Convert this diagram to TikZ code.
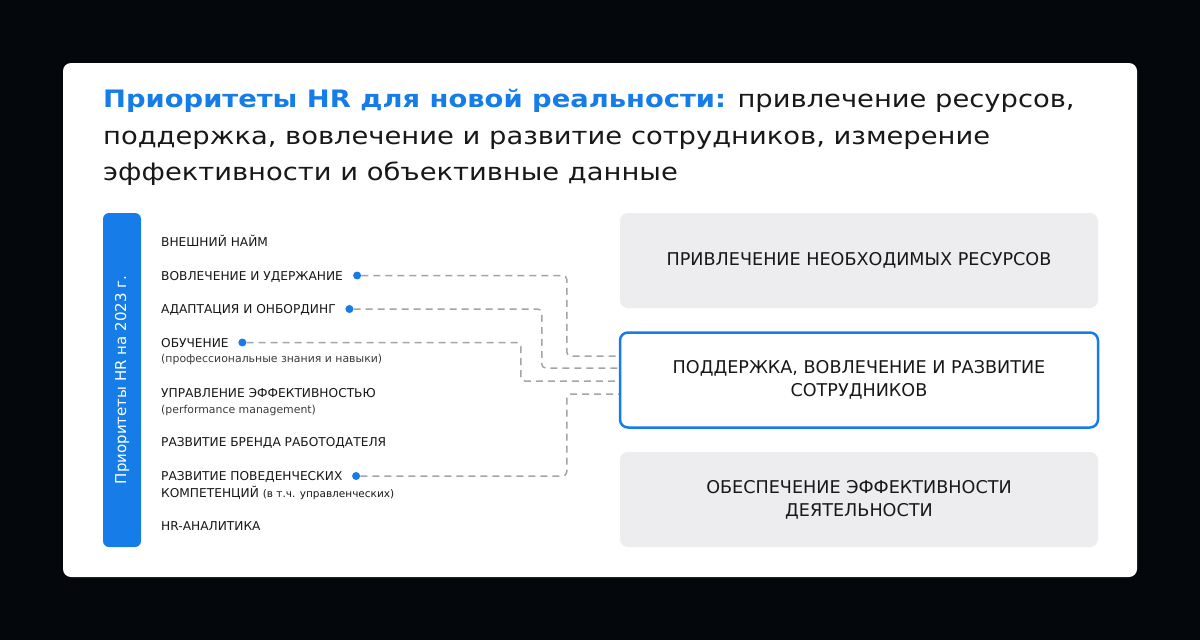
\documentclass[tikz,border=0pt]{standalone}
\usepackage{fontspec}
\setmainfont{DejaVu Sans}
\newfontfamily\titlefont{DejaVu Sans}[FakeStretch=1.14]
\usepackage{xcolor}
\usepackage{tikz}
\usetikzlibrary{
    positioning,
    calc
}
\definecolor{hrblue}{RGB}{22,124,232}
\definecolor{backdrop}{RGB}{4,7,11}
\definecolor{boxgray}{RGB}{237,237,239}
\definecolor{dashgray}{RGB}{165,165,165}
\definecolor{ink}{RGB}{24,24,24}
\tikzstyle{card} = [
    fill=white,
    rounded corners=8pt
]
\tikzstyle{goal} = [
    rectangle,
    rounded corners=8pt,
    fill=boxgray,
    minimum width=478pt,
    minimum height=95pt,
    align=center,
    text=ink,
    font=\fontsize{17.6}{23}\selectfont
]
\tikzstyle{focus} = [
    goal,
    fill=white,
    draw=hrblue,
    line width=2.5pt
]
\tikzstyle{yearbar} = [
    rectangle,
    rounded corners=6pt,
    fill=hrblue,
    minimum width=334pt,
    minimum height=38pt,
    text=white,
    font=\fontsize{15}{17}\selectfont
]
\tikzstyle{item} = [
    anchor=base west,
    inner sep=0pt,
    text=ink,
    font=\fontsize{12.2}{14}\selectfont
]
\tikzstyle{note} = [
    item,
    text=ink!85,
    font=\fontsize{10.9}{12}\selectfont
]
\tikzstyle{dot} = [
    circle,
    fill=hrblue,
    minimum size=8pt,
    inner sep=0pt
]
\tikzstyle{link} = [
    draw=dashgray,
    line width=1.5pt,
    dash pattern=on 7pt off 5pt,
    rounded corners=4pt
]
\newcommand{\notesize}{\fontsize{10.5}{12}\selectfont}

\begin{document}
\begin{tikzpicture}[x=1pt, y=-1pt]
        % Backdrop and card
        \fill[backdrop] (0,0) rectangle (1200,640);
        \fill[card] (63,63) rectangle (1137,577);

        % Title
        \node[anchor=north west, align=left, inner sep=0pt, text=ink,
              font=\titlefont\fontsize{24}{36.7}\selectfont] (title) at (103,89)
            {\textcolor{hrblue}{\bfseries Приоритеты HR для новой реальности:} привлечение ресурсов,\\
             поддержка, вовлечение и развитие сотрудников, измерение\\
             эффективности и объективные данные};

        % Year bar
        \node[yearbar, rotate=90] (year) at (122,380) {Приоритеты HR на 2023 г.};

        % Priority list
        \node[item] (hire) at (161,246) {ВНЕШНИЙ НАЙМ};
        \node[item] (engage) at (161,280) {ВОВЛЕЧЕНИЕ И УДЕРЖАНИЕ};
        \node[item] (onboard) at (161,313.5) {АДАПТАЦИЯ И ОНБОРДИНГ};
        \node[item] (train) at (161,347) {ОБУЧЕНИЕ};
        \node[note] (trainnote) at (161,362) {(профессиональные знания и навыки)};
        \node[item] (perf) at (161,397) {УПРАВЛЕНИЕ ЭФФЕКТИВНОСТЬЮ};
        \node[note] (perfnote) at (161,413) {(performance management)};
        \node[item] (brand) at (161,446) {РАЗВИТИЕ БРЕНДА РАБОТОДАТЕЛЯ};
        \node[item] (skills) at (161,480.5) {РАЗВИТИЕ ПОВЕДЕНЧЕСКИХ};
        \node[item] (skills2) at (161,497) {КОМПЕТЕНЦИЙ {\notesize (в т.ч. управленческих)}};
        \node[item] (analytics) at (161,530) {HR-АНАЛИТИКА};

        % Goals
        \node[goal] (resources) at (859,260.5) {ПРИВЛЕЧЕНИЕ НЕОБХОДИМЫХ РЕСУРСОВ};
        \node[focus] (support) at (859,380) {ПОДДЕРЖКА, ВОВЛЕЧЕНИЕ И РАЗВИТИЕ\\ СОТРУДНИКОВ};
        \node[goal] (efficiency) at (859,499.5) {ОБЕСПЕЧЕНИЕ ЭФФЕКТИВНОСТИ\\ ДЕЯТЕЛЬНОСТИ};

        % Dots
        \node[dot] (d1) at ([xshift=14pt, yshift=4.5pt]engage.base east) {};
        \node[dot] (d2) at ([xshift=13.5pt, yshift=4.5pt]onboard.base east) {};
        \node[dot] (d3) at ([xshift=13.5pt, yshift=4.5pt]train.base east) {};
        \node[dot] (d4) at ([xshift=13.5pt, yshift=4.5pt]skills.base east) {};

        % Entry points
        \coordinate (in1) at ([yshift=24pt]support.west);
        \coordinate (in2) at ([yshift=12pt]support.west);
        \coordinate (in3) at ([yshift=-1pt]support.west);
        \coordinate (in4) at ([yshift=-14pt]support.west);

        % Dashed links
        \draw[link] (d1) -| ([xshift=-52pt]in1) -- (in1);
        \draw[link] (d2) -| ([xshift=-77pt]in2) -- (in2);
        \draw[link] (d3) -| ([xshift=-98pt]in3) -- (in3);
        \draw[link] (d4) -| ([xshift=-52pt]in4) -- (in4);
    \end{tikzpicture}
\end{document}
